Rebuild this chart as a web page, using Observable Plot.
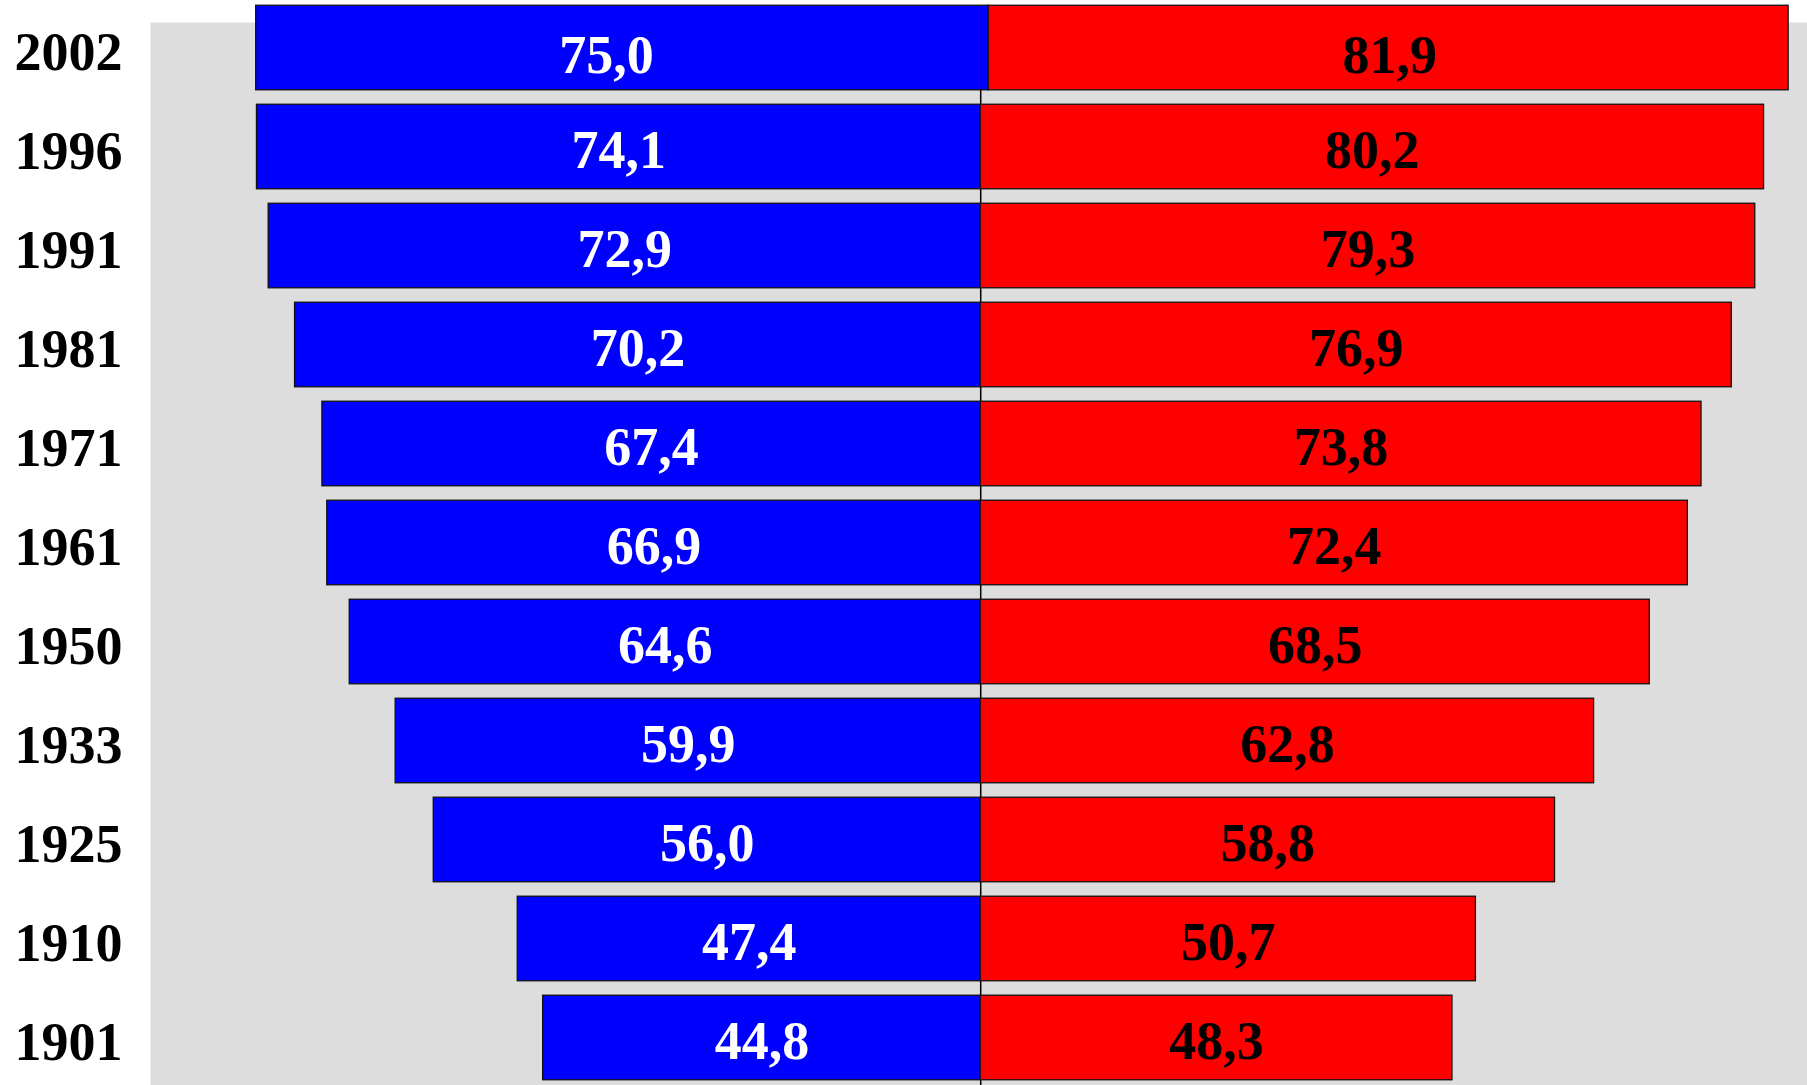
<!DOCTYPE html>
<html>
<head>
<meta charset="utf-8">
<script src="https://cdn.jsdelivr.net/npm/d3@7"></script>
<script src="https://cdn.jsdelivr.net/npm/@observablehq/plot@0.6"></script>
<style>
  html, body { margin: 0; padding: 0; background: #ffffff; }
  #chart svg { display: block; }
</style>
</head>
<body>
<div id="chart"></div>
<script>
// Life expectancy at birth (years), men on the left, women on the right
const years = ["2002", "1996", "1991", "1981", "1971", "1961", "1950", "1933", "1925", "1910", "1901"];
const men = [75.0, 74.1, 72.9, 70.2, 67.4, 66.9, 64.6, 59.9, 56.0, 47.4, 44.8];
const women = [81.9, 80.2, 79.3, 76.9, 73.8, 72.4, 68.5, 62.8, 58.8, 50.7, 48.3];

const fmt = v => v.toFixed(1).replace(".", ",");

const rows = [];
years.forEach((year, i) => {
  rows.push({year, sex: "men", x1: -men[i], x2: 0, value: men[i]});
  rows.push({year, sex: "women", x1: 0, x2: women[i], value: women[i]});
});

const colors = {men: "#0000ff", women: "#ff0000"};
const textColors = {men: "#ffffff", women: "#000000"};
const font = "'Liberation Serif', 'Times New Roman', serif";
const labelSize = 54;

// The most recent row sits slightly to the right of the common centre line
const latest = rows.filter(d => d.year === "2002");
const earlier = rows.filter(d => d.year !== "2002");

function bars(data, dx) {
  return Plot.barX(data, {
    y: "year", x1: "x1", x2: "x2",
    fill: d => colors[d.sex],
    stroke: "#111111", strokeWidth: 1.3,
    dx
  });
}

function labels(data, dx, dy) {
  return Plot.text(data, {
    y: "year",
    x: d => (d.x1 + d.x2) / 2,
    text: d => fmt(d.value),
    fill: d => textColors[d.sex],
    fontSize: labelSize, fontWeight: "bold", fontFamily: font,
    dx, dy
  });
}

const chart = Plot.plot({
  width: 1807,
  height: 1085,
  marginLeft: 150,
  marginRight: 0,
  marginTop: 22,
  marginBottom: 0,
  style: {background: "#ffffff", fontFamily: font},
  x: {domain: [-85, 84.65], axis: null},
  y: {
    type: "band",
    domain: years,
    range: [0, 1085],
    round: false,
    paddingInner: 0.146,
    paddingOuter: 0.053,
    axis: null
  },
  marks: [
    Plot.frame({fill: "#dddddd", stroke: null}),
    Plot.ruleX([0], {stroke: "#000000", strokeWidth: 1.5}),
    bars(earlier, 0),
    labels(earlier, 0, 4),
    bars(latest, 8),
    labels(latest.filter(d => d.sex === "men"), -8, 8),
    labels(latest.filter(d => d.sex === "women"), 9, 8),
    Plot.axisY({
      tickSize: 0,
      tickPadding: 28,
      fontSize: labelSize,
      fontWeight: "bold",
      fontFamily: font,
      fill: "#000000",
      dy: 5,
      label: null
    })
  ]
});

document.getElementById("chart").appendChild(chart);
</script>
</body>
</html>
